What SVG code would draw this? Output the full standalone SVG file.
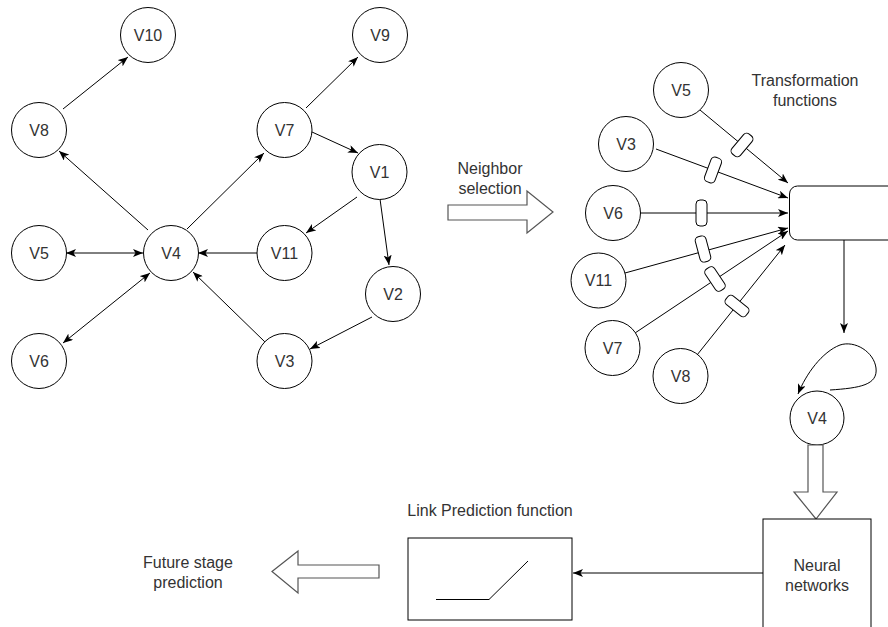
<svg xmlns="http://www.w3.org/2000/svg" width="888" height="627" viewBox="0 0 888 627">
<defs>
<style>
.n circle{fill:#fff;stroke:#000;stroke-width:1}
text{font-family:"Liberation Sans",Arial,sans-serif;font-size:16px;fill:#333;text-anchor:middle}
.e{stroke:#000;stroke-width:1;fill:none}
.a{marker-end:url(#arr)}
.b{marker-start:url(#arr);marker-end:url(#arr)}
.tf{fill:#fff;stroke:#000;stroke-width:1}
.blk{fill:#fff;stroke:#555;stroke-width:1.2}
</style>
<marker id="arr" viewBox="0 0 10 8" refX="10" refY="4" markerWidth="10" markerHeight="8" markerUnits="userSpaceOnUse" orient="auto-start-reverse">
<path d="M0,0 L10,4 L0,8 L2.5,4 z" fill="#000"/>
</marker>
</defs>
<rect width="888" height="627" fill="#fff"/>

<g id="connectors">
<line class="e a" x1="63" y1="109" x2="128" y2="57"/>
<line class="e a" x1="306" y1="108" x2="358" y2="57"/>
<line class="e a" x1="312" y1="132" x2="358" y2="153"/>
<line class="e a" x1="148" y1="230" x2="59" y2="151"/>
<line class="e a" x1="187" y1="229" x2="264" y2="153"/>
<line class="e a" x1="357" y1="197" x2="306" y2="233"/>
<line class="e a" x1="380" y1="199" x2="389" y2="265"/>
<line class="e a" x1="257" y1="253" x2="198" y2="253"/>
<line class="e b" x1="66" y1="253" x2="143" y2="253"/>
<line class="e b" x1="63" y1="343" x2="150" y2="273"/>
<line class="e a" x1="265" y1="342" x2="193" y2="272"/>
<line class="e a" x1="372" y1="317" x2="310" y2="349"/>

<line class="e a" x1="700" y1="110" x2="788" y2="183"/>
<line class="e a" x1="656" y1="149" x2="788" y2="198"/>
<line class="e a" x1="640" y1="213" x2="788" y2="213"/>
<line class="e a" x1="625" y1="273" x2="788" y2="228"/>
<line class="e a" x1="635" y1="333" x2="788" y2="231"/>
<line class="e a" x1="697" y1="355" x2="785" y2="245"/>

<line class="e a" x1="844" y1="240" x2="844" y2="333"/>
<path class="e a" d="M830,390 C860,388 878,385 876,368 C874,352 855,340 840,345 C822,352 806,374 798,394"/>
<line class="e a" x1="763" y1="573" x2="573" y2="573"/>
</g>

<g id="transforms">
<rect class="tf" x="-5.5" y="-13" width="11" height="26" rx="4" transform="translate(742,145) rotate(40)"/>
<rect class="tf" x="-5.5" y="-13" width="11" height="26" rx="4" transform="translate(713,170) rotate(20.5)"/>
<rect class="tf" x="-5.5" y="-13" width="11" height="26" rx="4" transform="translate(701.5,213)"/>
<rect class="tf" x="-5.5" y="-13" width="11" height="26" rx="4" transform="translate(703,249) rotate(-15)"/>
<rect class="tf" x="-5.5" y="-13" width="11" height="26" rx="4" transform="translate(715,279) rotate(-33.7)"/>
<rect class="tf" x="-5.5" y="-13" width="11" height="26" rx="4" transform="translate(737,306) rotate(-51.5)"/>
</g>

<g id="left-V10" class="n"><circle cx="148" cy="35" r="27.5"/><text x="148" y="40.5">V10</text></g>
<g id="left-V9" class="n"><circle cx="380" cy="35" r="27.5"/><text x="380" y="40.5">V9</text></g>
<g id="left-V8" class="n"><circle cx="39" cy="130" r="27.5"/><text x="39" y="135.5">V8</text></g>
<g id="left-V7" class="n"><circle cx="284.5" cy="130" r="27.5"/><text x="284.5" y="135.5">V7</text></g>
<g id="left-V1" class="n"><circle cx="379.5" cy="172" r="27.5"/><text x="379.5" y="177.5">V1</text></g>
<g id="left-V5" class="n"><circle cx="39" cy="253" r="27.5"/><text x="39" y="258.5">V5</text></g>
<g id="left-V4" class="n"><circle cx="171" cy="253" r="27.5"/><text x="171" y="258.5">V4</text></g>
<g id="left-V11" class="n"><circle cx="284.5" cy="253" r="27.5"/><text x="284.5" y="258.5">V11</text></g>
<g id="left-V2" class="n"><circle cx="393" cy="294" r="27.5"/><text x="393" y="299.5">V2</text></g>
<g id="left-V6" class="n"><circle cx="39" cy="361" r="27.5"/><text x="39" y="366.5">V6</text></g>
<g id="left-V3" class="n"><circle cx="284.5" cy="361" r="27.5"/><text x="284.5" y="366.5">V3</text></g>

<g id="neighbor-selection">
<polygon class="blk" points="448,205 527,205 527,191 553,212 527,233 527,220 448,220"/>
<text x="490" y="173.5">Neighbor</text>
<text x="490" y="193.5">selection</text>
</g>

<g id="right-V5" class="n"><circle cx="681" cy="90" r="27.5"/><text x="681" y="95.5">V5</text></g>
<g id="right-V3" class="n"><circle cx="626" cy="144" r="27.5"/><text x="626" y="149.5">V3</text></g>
<g id="right-V6" class="n"><circle cx="613" cy="213" r="27.5"/><text x="613" y="218.5">V6</text></g>
<g id="right-V11" class="n"><circle cx="598.5" cy="280.5" r="27.5"/><text x="598.5" y="286">V11</text></g>
<g id="right-V7" class="n"><circle cx="612.5" cy="348" r="27.5"/><text x="612.5" y="353.5">V7</text></g>
<g id="right-V8" class="n"><circle cx="680.5" cy="376" r="27.5"/><text x="680.5" y="381.5">V8</text></g>

<g id="transformation-label">
<text x="805" y="85.5">Transformation</text>
<text x="805" y="105.5">functions</text>
</g>

<g id="aggregator"><rect x="789.5" y="186" width="120" height="54" rx="8" fill="#fff" stroke="#000"/></g>

<g id="right-V4" class="n"><circle cx="817" cy="418" r="27"/><text x="817" y="423.5">V4</text></g>

<g id="v4-arrow"><polygon class="blk" points="808,445 823,445 823,492 837,492 816,519 794,492 808,492"/></g>

<g id="neural-networks">
<rect x="763" y="519" width="108" height="130" fill="#fff" stroke="#000"/>
<text x="817" y="570.5">Neural</text>
<text x="817" y="590.5">networks</text>
</g>

<g id="link-prediction">
<text x="490" y="515.5">Link Prediction function</text>
<rect x="408" y="538" width="164" height="82" fill="#fff" stroke="#000"/>
<polyline class="e" points="436,599.5 489,599.5 528,561"/>
</g>

<g id="future-prediction">
<polygon class="blk" points="272,571.5 298,551 298,565 379,565 379,578 298,578 298,593"/>
<text x="188" y="567.5">Future stage</text>
<text x="188" y="587.5">prediction</text>
</g>
</svg>
